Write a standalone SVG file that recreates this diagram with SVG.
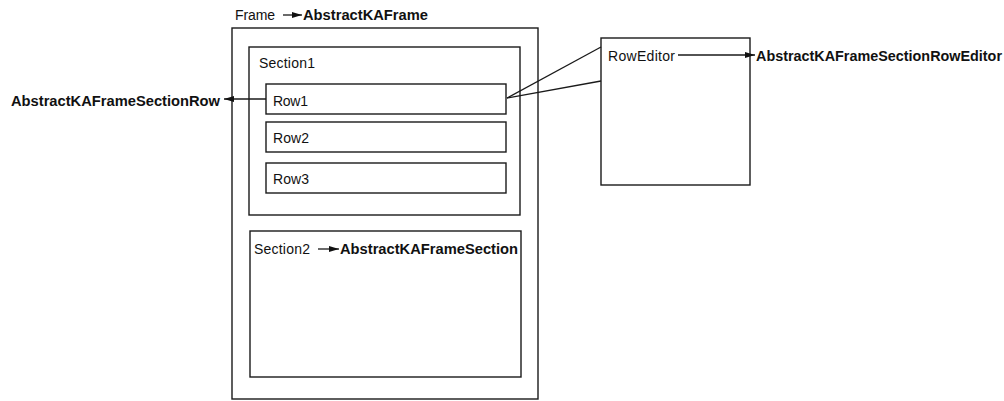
<svg xmlns="http://www.w3.org/2000/svg" width="1004" height="401" viewBox="0 0 1004 401">
  <style>
    .box { fill: none; stroke: #1a1a1a; stroke-width: 1.4; }
    .lbl { font-family: "Liberation Sans", Arial, sans-serif; font-size: 14px; fill: #111; }
    .cls { font-family: "Liberation Sans", Arial, sans-serif; font-size: 14px; font-weight: bold; fill: #111; }
    .wire { fill: none; stroke: #1a1a1a; stroke-width: 1.3; }
  </style>
  <defs>
    <marker id="tip" viewBox="0 0 10 6" refX="10" refY="3" markerWidth="10" markerHeight="6" markerUnits="userSpaceOnUse" orient="auto">
      <path d="M0,0 L10,3 L0,6 Z" fill="#111"/>
    </marker>
  </defs>
  <rect width="1004" height="401" fill="#fff"/>

  <g id="frame">
    <rect class="box" x="232" y="28" width="306" height="371"/>
    <text class="lbl" x="235" y="20" textLength="40">Frame</text>
  </g>

  <g id="section1">
    <rect class="box" x="249" y="47" width="271" height="168"/>
    <text class="lbl" x="259" y="68" textLength="56">Section1</text>
  </g>

  <g id="row1">
    <rect class="box" x="266" y="84" width="240" height="30"/>
    <text class="lbl" x="273" y="106" textLength="35">Row1</text>
  </g>

  <g id="row2">
    <rect class="box" x="266" y="122" width="240" height="30"/>
    <text class="lbl" x="273" y="143" textLength="36">Row2</text>
  </g>

  <g id="row3">
    <rect class="box" x="266" y="163" width="240" height="30"/>
    <text class="lbl" x="273" y="184" textLength="36">Row3</text>
  </g>

  <g id="section2">
    <rect class="box" x="250" y="231" width="271" height="146"/>
    <text class="lbl" x="254" y="254" textLength="56">Section2</text>
  </g>

  <g id="row-editor">
    <rect class="box" x="601" y="38" width="149" height="147"/>
    <text class="lbl" x="608" y="61" textLength="67">RowEditor</text>
  </g>

  <g id="class-abstract-frame">
    <text class="cls" x="303" y="20" textLength="125" lengthAdjust="spacingAndGlyphs">AbstractKAFrame</text>
  </g>
  <g id="class-abstract-section">
    <text class="cls" x="340" y="254" textLength="178" lengthAdjust="spacingAndGlyphs">AbstractKAFrameSection</text>
  </g>
  <g id="class-abstract-row">
    <text class="cls" x="11" y="106" textLength="209" lengthAdjust="spacingAndGlyphs">AbstractKAFrameSectionRow</text>
  </g>
  <g id="class-abstract-row-editor">
    <text class="cls" x="756" y="61" textLength="246" lengthAdjust="spacingAndGlyphs">AbstractKAFrameSectionRowEditor</text>
  </g>

  <g id="connectors">
    <line class="wire" x1="283" y1="15" x2="302" y2="15" marker-end="url(#tip)"/>
    <line class="wire" x1="318" y1="249" x2="339" y2="249" marker-end="url(#tip)"/>
    <line class="wire" x1="266" y1="99" x2="224" y2="99" marker-end="url(#tip)"/>
    <line class="wire" x1="678" y1="55" x2="755" y2="55" marker-end="url(#tip)"/>
    <line class="wire" x1="507" y1="98" x2="601" y2="47"/>
    <line class="wire" x1="507" y1="98" x2="601" y2="81"/>
  </g>
</svg>
